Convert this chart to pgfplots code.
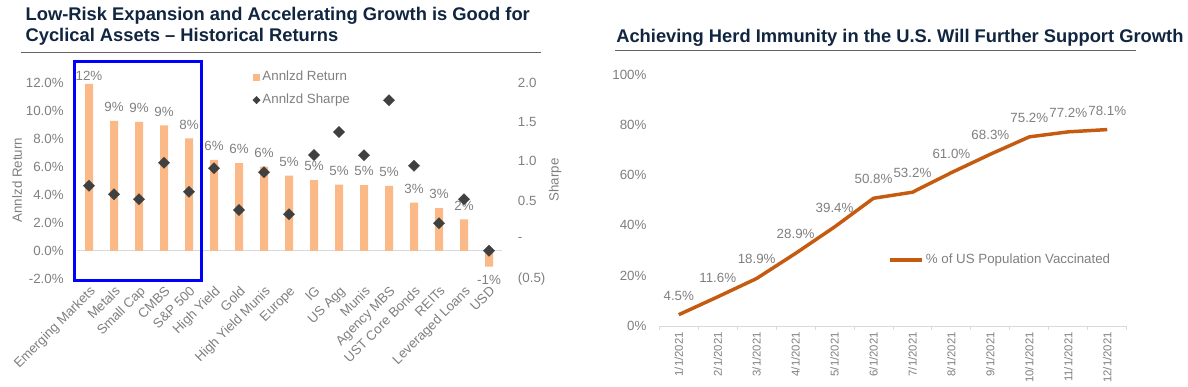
\documentclass[border=0pt]{standalone}
\usepackage{fontspec}
\setmainfont{Liberation Sans}
\usepackage{pgfplots}
\pgfplotsset{compat=1.18}
\usepackage{pgfplotstable}
\definecolor{barorange}{RGB}{250,185,135}
\definecolor{dkmark}{RGB}{64,64,64}
\definecolor{txtgray}{RGB}{127,127,127}
\definecolor{titleblue}{RGB}{16,37,64}
\definecolor{lineorange}{RGB}{197,90,17}
\definecolor{axgray}{RGB}{217,217,217}
\definecolor{rulegray}{RGB}{100,100,100}
\newcommand\tf{\fontsize{10}{12}\selectfont}
\newcommand\ttl{\fontsize{13.75}{16}\selectfont\bfseries}

\pgfplotstableread{
x ret sharpe dy
0 11.91 0.688 -4.5
1 9.27 0.579 0
2 9.20 0.515 0
3 8.96 0.981 0
4 8.03 0.612 0
5 6.49 0.910 0
6 6.27 0.379 0
7 6.01 0.859 0
8 5.37 0.324 0
9 5.06 1.079 0
10 4.73 1.372 0
11 4.70 1.075 0
12 4.65 1.776 0
13 3.44 0.943 0
14 3.06 0.209 0
15 2.26 0.515 0
16 -1.12 -0.140 0
}\assets

\pgfplotstableread{
x v
0 4.5
1 11.6
2 18.9
3 28.9
4 39.4
5 50.8
6 53.2
7 61.0
8 68.3
9 75.2
10 77.2
11 78.1
}\vacc

\begin{document}
\begin{tikzpicture}
\useasboundingbox (0,0) rectangle (891pt,289.5pt);
% titles
\node[anchor=base west, inner sep=0pt, font=\ttl, text=titleblue] at (19pt,273.75pt) {Low-Risk Expansion and Accelerating Growth is Good for};
\node[anchor=base west, inner sep=0pt, font=\ttl, text=titleblue] at (19pt,258.2pt) {Cyclical Assets – Historical Returns};
\node[anchor=base west, inner sep=0pt, font=\ttl, text=titleblue] at (462pt,257.5pt) {Achieving Herd Immunity in the U.S. Will Further Support Growth};
\draw[rulegray, line width=0.9pt] (15.5pt,250pt) -- (406.1pt,250pt);
\draw[rulegray, line width=0.9pt] (461.25pt,251.5pt) -- (852pt,251.5pt);

% left chart: returns
\begin{axis}[
  at={(57.375pt,80.25pt)}, anchor=south west,
  scale only axis, width=318.75pt, height=147.225pt,
  xmin=-0.5, xmax=16.5, ymin=-2, ymax=12,
  clip=false,
  axis x line*=bottom, axis y line*=left,
  axis line style={draw=none},
  tick style={draw=none},
  /pgf/number format/assume math mode=true,
  xtick={0,...,16},
  xticklabels={Emerging Markets,Metals,Small Cap,CMBS,S\&P 500,High Yield,Gold,High Yield Munis,Europe,IG,US Agg,Munis,Agency MBS,UST Core Bonds,REITs,Leveraged Loans,USD},
  xticklabel style={font=\tf, text=txtgray, rotate=45, anchor=north east, inner sep=0pt},
  xticklabel shift=4.5pt,
  ytick={-2,0,2,4,6,8,10,12},
  yticklabel={\pgfmathprintnumber[fixed,fixed zerofill,precision=1]{\tick}\%},
  yticklabel style={font=\tf, text=txtgray, anchor=east, inner sep=0pt},
  yticklabel shift=9.4pt,
  ylabel={Annlzd Return},
  ylabel style={at={(axis description cs:-0.14,0.504)}, anchor=center, font=\tf, text=txtgray},
  legend style={at={(axis description cs:0.414,1.06)}, anchor=north west, draw=none, fill=none,
    inner sep=0pt, font=\tf, text=txtgray, row sep=7.6pt, column sep=1.5pt,
    nodes={inner sep=0pt, text height=7.2pt, text depth=2.2pt}},
  legend cell align=left,
]
\addplot[axgray, line width=0.75pt, forget plot] coordinates {(-0.5,0) (16.5,0)};
\addplot[ybar, bar width=0.32, bar shift=0pt, fill=barorange, draw=none,
  visualization depends on={\thisrow{dy} \as \labdy},
  nodes near coords={\pgfmathprintnumber[fixed,precision=0]{\pgfplotspointmeta}\%},
  nodes near coords align={vertical},
  every node near coord/.append style={font=\tf, text=txtgray, inner xsep=0pt, inner ysep=6.5pt, yshift=\labdy pt},
  legend image code/.code={\fill[barorange] (-2.5pt,-2.5pt) rectangle (2.5pt,2.5pt);}
  ] table[x=x,y=ret]{\assets};
\addlegendentry{Annlzd Return}
\addlegendimage{legend image code/.code={\fill[dkmark] (0,-2.7pt) -- (2.7pt,0) -- (0,2.7pt) -- (-2.7pt,0) -- cycle;}}
\addlegendentry{Annlzd Sharpe}
\draw[blue, line width=2.25pt] (axis cs:-0.588,-2.135) rectangle (axis cs:4.5,13.48);
\end{axis}

% left chart: sharpe
\begin{axis}[
  at={(57.375pt,80.25pt)}, anchor=south west,
  scale only axis, width=318.75pt, height=147.225pt,
  xmin=-0.5, xmax=16.5, ymin=-0.5, ymax=2,
  clip=false,
  axis x line=none, axis y line*=right,
  axis line style={draw=none},
  tick style={draw=none},
  ytick={-0.5,0,0.5,1,1.5,2},
  yticklabels={(0.5),-,0.5,1.0,1.5,2.0},
  yticklabel style={font=\tf, text=txtgray, anchor=west, inner sep=0pt},
  yticklabel shift=12.15pt,
  ylabel={Sharpe},
  ylabel style={at={(axis description cs:1.126,0.504)}, anchor=center, font=\tf, text=txtgray},
]
\addplot[only marks, mark=square*, mark size=3pt, mark options={rotate=45, fill=dkmark, draw=dkmark, line width=0.2pt}] table[x=x,y=sharpe]{\assets};
\end{axis}

% right chart
\begin{axis}[
  at={(494.475pt,45pt)}, anchor=south west,
  scale only axis, width=350.55pt, height=188.625pt,
  xmin=-0.5, xmax=11.5, ymin=0, ymax=100,
  clip=false,
  axis x line*=bottom, axis y line*=left,
  y axis line style={draw=none},
  x axis line style={axgray, line width=0.75pt},
  /pgf/number format/assume math mode=true,
  xtick={0,...,11},
  xticklabels={1/1/2021,2/1/2021,3/1/2021,4/1/2021,5/1/2021,6/1/2021,7/1/2021,8/1/2021,9/1/2021,10/1/2021,11/1/2021,12/1/2021},
  xticklabel style={font=\fontsize{8.5}{10}\selectfont, text=txtgray, rotate=90, anchor=east, inner sep=0pt},
  xticklabel shift=4.5pt,
  xtick style={axgray, line width=0.75pt},
  ytick style={draw=none},
  major tick length=0pt,
  extra x ticks={-0.5,0.5,1.5,2.5,3.5,4.5,5.5,6.5,7.5,8.5,9.5,10.5,11.5},
  extra x tick labels={},
  extra x tick style={grid=none, major tick length=3pt, tick align=outside},
  ytick={0,20,40,60,80,100},
  yticklabel={\pgfmathprintnumber{\tick}\%},
  yticklabel style={font=\tf, text=txtgray, anchor=east, inner sep=0pt},
  yticklabel shift=9.45pt,
  legend style={at={(axis description cs:0.4878,0.2624)}, anchor=west, draw=none, fill=none,
    inner sep=0pt, font=\tf, text=txtgray, column sep=1.5pt, nodes={inner sep=0pt}},
]
\addplot[lineorange, line width=2.6pt, line join=round,
  nodes near coords={\pgfmathprintnumber[fixed,fixed zerofill,precision=1]{\pgfplotspointmeta}\%},
  every node near coord/.append style={font=\tf, text=txtgray, inner xsep=0pt, inner ysep=9.5pt},
  legend image code/.code={\draw[lineorange, line width=3.2pt] (0pt,0pt) -- (24pt,0pt);}
  ] table[x=x,y=v]{\vacc};
\addlegendentry{\% of US Population Vaccinated}
\end{axis}
\end{tikzpicture}
\end{document}
